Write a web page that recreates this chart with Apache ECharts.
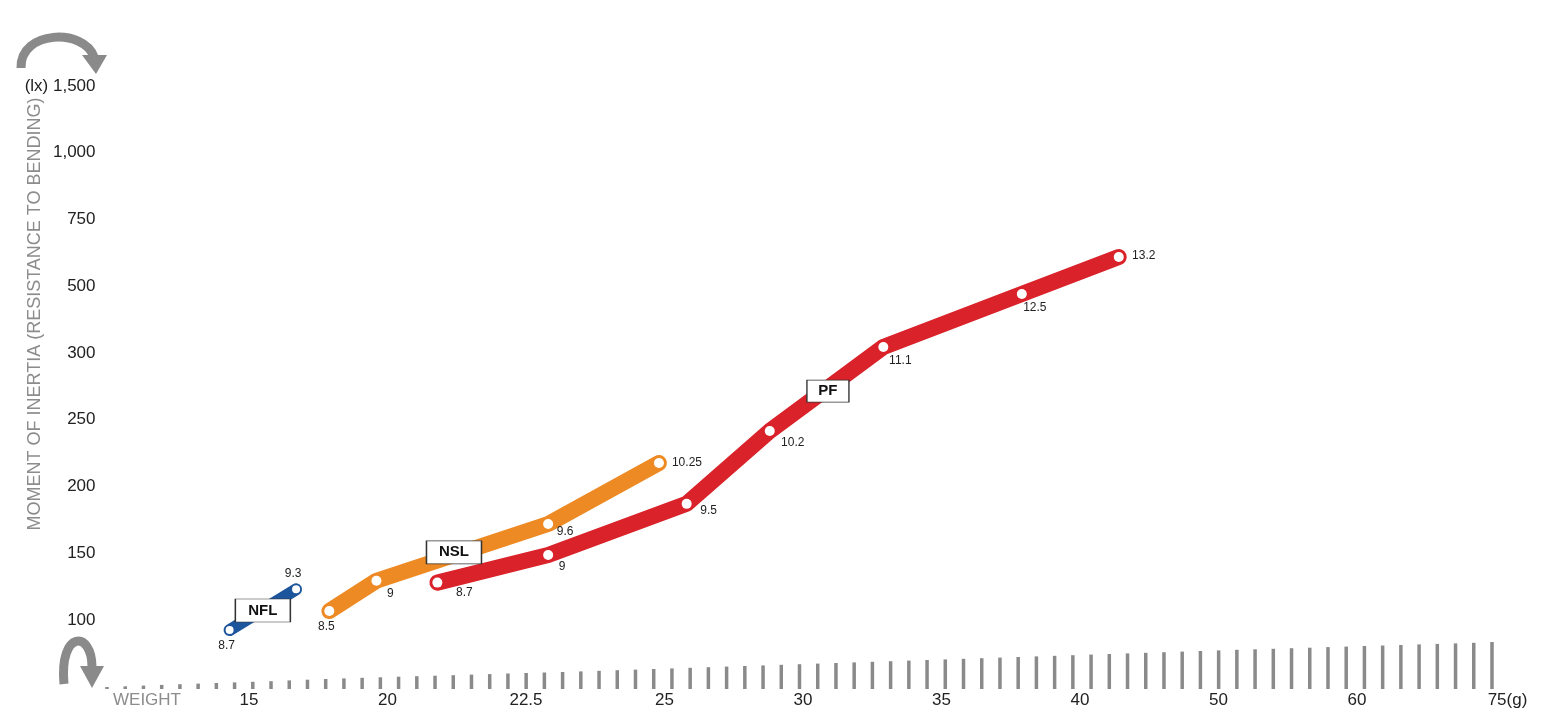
<!DOCTYPE html>
<html>
<head>
<meta charset="utf-8">
<script src="https://cdn.jsdelivr.net/npm/echarts@6/dist/echarts.min.js"></script>
<style>
  html, body { margin: 0; padding: 0; background: #ffffff; }
  #chart { width: 1543px; height: 724px; }
</style>
</head>
<body>
<div id="chart"></div>
<script>
// ---- tick scales (non-uniform, equally spaced on screen) ----
const weightTicks = [15, 20, 22.5, 25, 30, 35, 40, 50, 60, 75];
const weightTickLabels = ['15', '20', '22.5', '25', '30', '35', '40', '50', '60', '75(g)'];
const momentTicks = [100, 150, 200, 250, 300, 500, 750, 1000, 1500];
const momentTickLabels = ['100', '150', '200', '250', '300', '500', '750', '1,000', '(lx) 1,500'];

// ---- series data: weight (g), moment of inertia (lx), flex label ----
const nflWeight = [14.3, 16.7];
const nflMoment = [92.5, 123];
const nflFlex = ['8.7', '9.3'];

const nslWeight = [17.9, 19.6, 22.9, 24.9];
const nslMoment = [106.7, 129.4, 171.9, 217.6];
const nslFlex = ['8.5', '9', '9.6', '10.25'];

const pfWeight = [20.9, 22.9, 25.8, 28.8, 32.9, 37.9, 42.8];
const pfMoment = [128, 148.7, 187, 241.6, 318, 477, 609.5];
const pfFlex = ['8.7', '9', '9.5', '10.2', '11.1', '12.5', '13.2'];

// series name tags, placed at (weight, moment)
const tagNames = ['NFL', 'NSL', 'PF'];
const tagWeight = [15.5, 21.2, 30.9];
const tagMoment = [107.1, 150.7, 271.5];

// decorative weight ruler heights
const rulerHeights = [2, 2.7, 3.4, 4.1, 4.8, 5.4, 6, 6.6, 7.2, 7.8, 8.6, 9.3, 10, 10.6, 11.2, 11.7,
  12.3, 12.8, 13.3, 13.8, 14.4, 14.9, 15.5, 16, 16.5, 17, 17.6, 18.2, 18.8, 19.4, 20, 20.6, 21.2,
  21.8, 22.4, 23, 23.6, 24.2, 24.8, 25.4, 26, 26.6, 27.2, 27.8, 28.4, 29, 29.6, 30.2, 30.8, 31.4,
  32, 32.6, 33.2, 33.8, 34.4, 35, 35.6, 36.2, 36.8, 37.4, 38, 38.6, 39.2, 39.7, 40.2, 40.8, 41.3,
  41.9, 42.4, 43, 43.5, 44, 44.6, 45.1, 45.6, 46.2, 47];

// ---- label placement / tag box sizes (style) ----
const nflLabelOffset = [[-3, 16], [-3, -16]];
const nslLabelOffset = [[-3, 16], [14, 13], [17, 8], [28, 0]];
const pfLabelOffset = [[27, 10], [14, 12], [22, 7], [23, 12], [17, 14], [13, 14], [25, -1]];
const tagBoxSize = [[55, 23], [55, 23], [42, 22]];

// piecewise-linear position along a tick scale
function toSlot(v, ticks) {
  let i = 0;
  if (v >= ticks[ticks.length - 1]) i = ticks.length - 2;
  else if (v > ticks[0]) { while (!(v >= ticks[i] && v <= ticks[i + 1])) i++; }
  return i + (v - ticks[i]) / (ticks[i + 1] - ticks[i]);
}

const FONT = "'Liberation Sans', Helvetica, Arial, sans-serif";

function buildData(ws, ms, labels, offsets) {
  return ws.map((w, i) => ({
    value: [toSlot(w, weightTicks), toSlot(ms[i], momentTicks)],
    label: { show: true, formatter: labels[i], position: 'inside', offset: offsets[i] }
  }));
}

function lineSeries(name, color, width, dot, data, z) {
  return {
    name: name,
    type: 'line',
    xAxisIndex: 0,
    yAxisIndex: 0,
    data: data,
    z: z,
    symbol: 'circle',
    symbolSize: dot,
    showAllSymbol: true,
    itemStyle: { color: '#ffffff', borderWidth: 0 },
    lineStyle: { color: color, width: width, cap: 'round', join: 'round' },
    label: { color: '#222', fontSize: 12, fontFamily: FONT },
    emphasis: { disabled: true },
    animation: false
  };
}

const chart = echarts.init(document.getElementById('chart'), null, { renderer: 'canvas' });

const GRAY = '#8a8a8a';

const option = {
  backgroundColor: '#ffffff',
  animation: false,
  grid: [
    { left: 110.5, right: 47.5, top: 86, bottom: 37.25 },
    { left: 97.9, right: 41.9, top: 639, bottom: 35 }
  ],
  xAxis: [
    {
      type: 'value', gridIndex: 0, min: -1, max: 9, interval: 1,
      axisLine: { show: false }, axisTick: { show: false }, splitLine: { show: false },
      axisLabel: {
        margin: 5, color: '#222', fontSize: 17, fontFamily: FONT,
        formatter: function (v) {
          if (v < 0) return '';
          if (v === weightTickLabels.length - 1) return '{g|' + weightTickLabels[v] + '}';
          return weightTickLabels[v];
        },
        rich: { g: { padding: [0, 0, 0, 24], fontSize: 17, color: '#222', fontFamily: FONT } }
      }
    },
    {
      type: 'category', gridIndex: 1, data: rulerHeights.map((_, i) => i), show: false
    }
  ],
  yAxis: [
    {
      type: 'value', gridIndex: 0, min: -1, max: 8, interval: 1,
      axisLine: { show: false }, axisTick: { show: false }, splitLine: { show: false },
      axisLabel: {
        margin: 15, color: '#222', fontSize: 17, fontFamily: FONT,
        formatter: function (v) { return v < 0 ? '' : momentTickLabels[v]; }
      }
    },
    { type: 'value', gridIndex: 1, min: 0, max: 50, show: false }
  ],
  series: [
    {
      type: 'bar', xAxisIndex: 1, yAxisIndex: 1, data: rulerHeights,
      barWidth: 3.5, itemStyle: { color: GRAY }, silent: true, animation: false
    },
    lineSeries('NFL', '#1d559c', 12, 8, buildData(nflWeight, nflMoment, nflFlex, nflLabelOffset), 3),
    lineSeries('NSL', '#ee8a24', 16, 10, buildData(nslWeight, nslMoment, nslFlex, nslLabelOffset), 4),
    lineSeries('PF', '#d92229', 16, 10, buildData(pfWeight, pfMoment, pfFlex, pfLabelOffset), 5),
    {
      name: 'tags',
      type: 'scatter',
      xAxisIndex: 0,
      yAxisIndex: 0,
      z: 10,
      symbol: 'rect',
      data: tagNames.map((n, k) => ({
        value: [toSlot(tagWeight[k], weightTicks), toSlot(tagMoment[k], momentTicks)],
        symbolSize: tagBoxSize[k],
        label: { formatter: n }
      })),
      itemStyle: { color: '#ffffff', borderColor: '#333333', borderWidth: 1, opacity: 1 },
      label: { show: true, position: 'inside', color: '#111', fontFamily: FONT,
        fontWeight: 'bold', fontSize: 15 },
      emphasis: { disabled: true },
      silent: true,
      animation: false
    }
  ],
  graphic: [
    { type: 'bezierCurve',
      shape: { x1: 21, y1: 68, cpx1: 20, cpy1: 30, cpx2: 84, cpy2: 28, x2: 94, y2: 57 },
      style: { stroke: GRAY, lineWidth: 9, fill: null }, silent: true },
    { type: 'polygon', shape: { points: [[82, 55], [107, 55], [96, 74]] },
      style: { fill: GRAY }, silent: true },
    { type: 'bezierCurve',
      shape: { x1: 64, y1: 684, cpx1: 59, cpy1: 630, cpx2: 92, cpy2: 630, x2: 92, y2: 667 },
      style: { stroke: GRAY, lineWidth: 9, fill: null }, silent: true },
    { type: 'polygon', shape: { points: [[80, 666], [104, 666], [92, 688]] },
      style: { fill: GRAY }, silent: true },
    { type: 'text', x: 35, y: 314, rotation: Math.PI / 2,
      style: { text: 'MOMENT OF INERTIA (RESISTANCE TO BENDING)', fill: '#8c8c8c',
        fontSize: 18, fontFamily: FONT, align: 'center', verticalAlign: 'middle' }, silent: true },
    { type: 'text', x: 147, y: 700,
      style: { text: 'WEIGHT', fill: '#8c8c8c', fontSize: 17, fontFamily: FONT,
        align: 'center', verticalAlign: 'middle' }, silent: true }
  ]
};

chart.setOption(option);
</script>
</body>
</html>
